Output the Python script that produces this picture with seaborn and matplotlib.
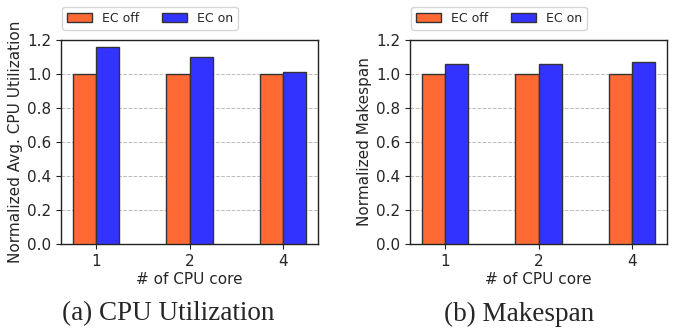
import pandas as pd
import matplotlib
matplotlib.use("Agg")
import matplotlib.pyplot as plt
import seaborn as sns

cores = ["1", "2", "4"]
modes = ["EC off", "EC on"]
cpu_off = [1.0, 1.0, 1.0]
cpu_on = [1.16, 1.10, 1.01]
mk_off = [1.0, 1.0, 1.0]
mk_on = [1.06, 1.06, 1.07]

sns.set_style("ticks")
plt.rcParams['font.family'] = ['DejaVu Sans']

def make_df(off, on):
    return pd.DataFrame({
        "core": cores * 2,
        "mode": [modes[0]] * 3 + [modes[1]] * 3,
        "value": off + on,
    })

fig = plt.figure(figsize=(6.8, 3.33), dpi=100)
ax1 = fig.add_axes([61 / 680, 1 - 244 / 333, 257 / 680, 204 / 333])
ax2 = fig.add_axes([410 / 680, 1 - 244 / 333, 257 / 680, 204 / 333])

palette = {"EC off": "#ff6933", "EC on": "#3333ff"}

panels = [
    (ax1, make_df(cpu_off, cpu_on), "Normalized Avg. CPU Utilization"),
    (ax2, make_df(mk_off, mk_on), "Normalized Makespan"),
]
for ax, df, ylab in panels:
    sns.barplot(data=df, x="core", y="value", hue="mode", palette=palette,
                width=0.5, edgecolor="#333333", linewidth=1.0, saturation=1,
                ax=ax, zorder=3)
    ax.set_xlim(-0.375, 2.375)
    ax.set_ylim(0, 1.2)
    ax.set_yticks([0.0, 0.2, 0.4, 0.6, 0.8, 1.0, 1.2])
    ax.set_yticklabels(["0.0", "0.2", "0.4", "0.6", "0.8", "1.0", "1.2"])
    ax.yaxis.grid(True, linestyle="--", color="#bbbbbb", linewidth=0.7, zorder=0)
    ax.set_axisbelow(True)
    ax.set_xlabel("# of CPU core", fontsize=11, labelpad=2)
    ax.set_ylabel(ylab, fontsize=11, labelpad=3)
    ax.tick_params(labelsize=11, length=3.5, color="#222222")
    for s in ax.spines.values():
        s.set_visible(True)
        s.set_color("#222222")
        s.set_linewidth(1.0)
    ax.legend(loc="lower left", bbox_to_anchor=(0.004, 1.05), ncol=2,
              fontsize=9, frameon=True, borderaxespad=0, columnspacing=1.8,
              handlelength=2.0, handletextpad=0.8, edgecolor="#cccccc",
              fancybox=True)

fig.text(168 / 680, 1 - 314 / 333, "(a) CPU Utilization", ha="center", va="center",
         fontsize=19.5, family="Liberation Serif")
fig.text(519 / 680, 1 - 314 / 333, "(b) Makespan", ha="center", va="center",
         fontsize=19.5, family="Liberation Serif")

fig.savefig("out.png", dpi=100)
